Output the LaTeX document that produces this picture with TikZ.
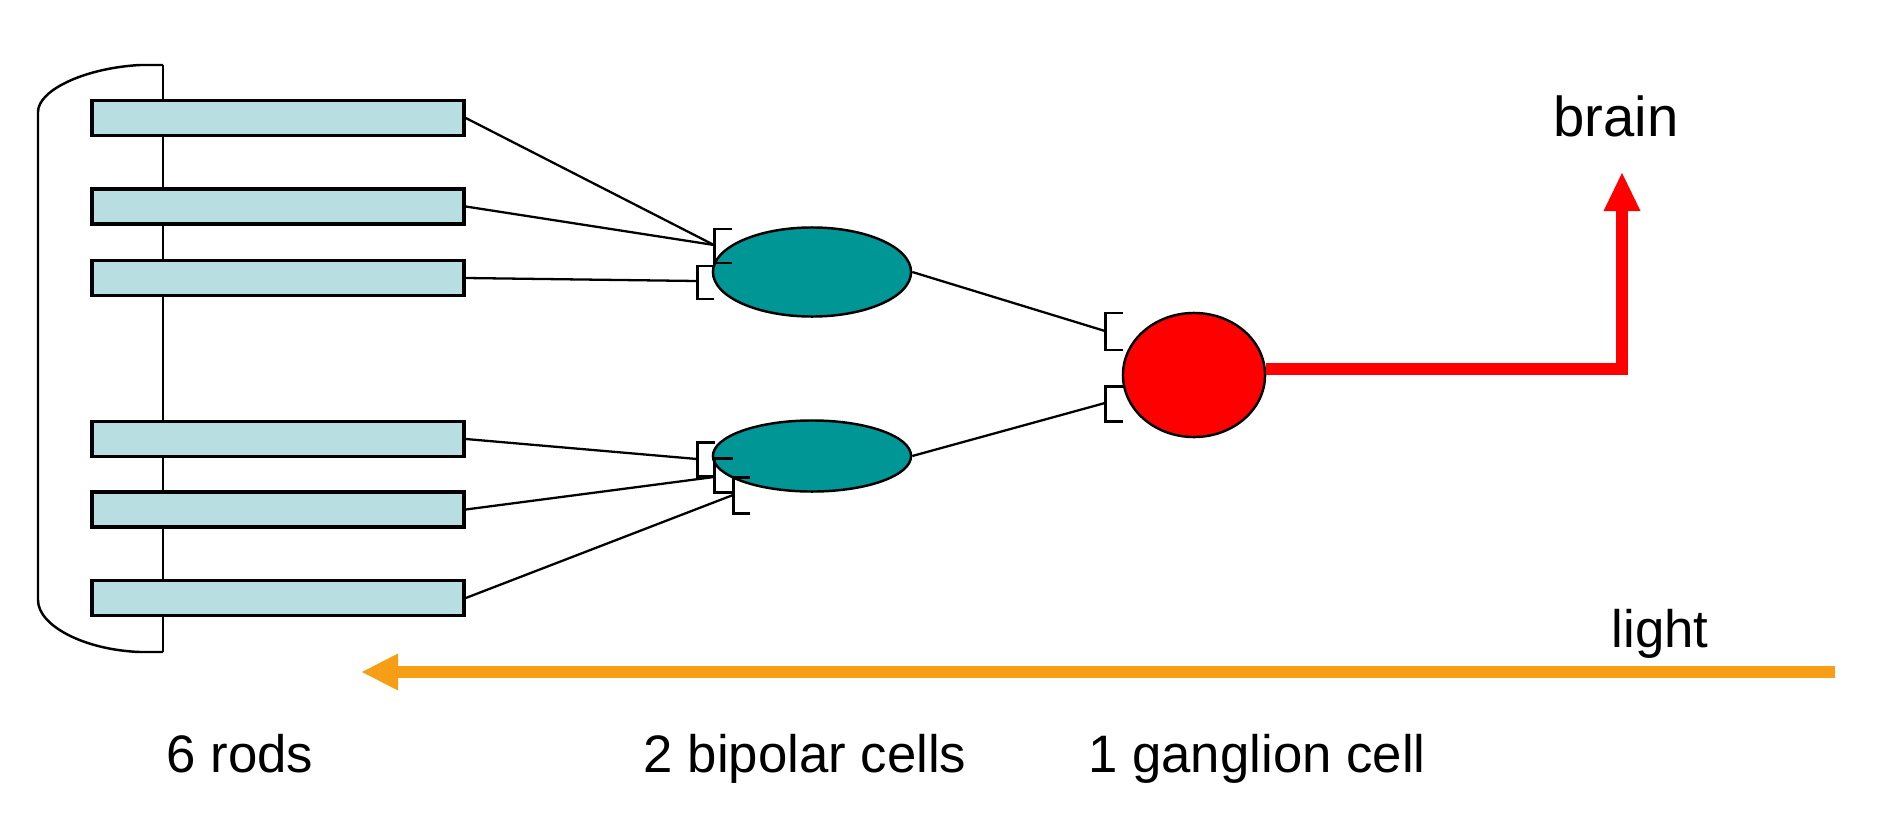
\documentclass[tikz,border=0pt]{standalone}
\usepackage{fontspec}
\setmainfont{Liberation Sans}
\usetikzlibrary{shapes.geometric,arrows.meta}

\definecolor{rodblue}{RGB}{184,222,226}
\definecolor{bipteal}{RGB}{0,150,150}
\definecolor{lightorange}{RGB}{246,158,22}

\begin{document}
\begin{tikzpicture}[x=0.01cm,y=-0.01cm,
	rod/.style={draw,line width=0.95pt,fill=rodblue,rectangle,minimum width=3.72cm,minimum height=0.35cm,inner sep=0pt},
	bipolar/.style={draw,line width=0.7pt,fill=bipteal,ellipse,minimum width=1.98cm,inner sep=0pt},
	wire/.style={line width=0.65pt},
	syn/.style={line width=0.85pt},
	lbl/.style={font=\fontsize{15}{18}\selectfont,anchor=base}]
				\useasboundingbox (0,0) rectangle (1891,824);
				
				% retina outline
				\draw[line width=0.7pt] (163,65) -- (140,65) .. controls (85,68) and (38,90) .. (38,112) -- (38,600) .. controls (38,626) and (85,650) .. (140,652) -- (163,652);
				\draw[line width=0.8pt] (163,65) -- (163,652);
				
				\node[rod] (rod1) at (278,118) {};
				\node[rod] (rod2) at (278,206.5) {};
				\node[rod] (rod3) at (278,278) {};
				\node[rod] (rod4) at (278,439) {};
				\node[rod] (rod5) at (278,509.5) {};
				\node[rod] (rod6) at (278,598) {};
				
				\node[bipolar,minimum height=0.89cm] (bip1) at (812,272) {};
				\node[bipolar,minimum height=0.71cm] (bip2) at (812,456) {};
				\node[ellipse,draw,fill=red,line width=0.7pt,minimum width=1.42cm,minimum height=1.24cm,inner sep=0pt] (gang) at (1194,375) {};
				
				\coordinate (s1) at (714,245);
				\coordinate (s2) at (697,281);
				\coordinate (s3) at (697,459);
				\coordinate (s4) at (714,477);
				\coordinate (s5) at (733,495);
				\coordinate (g1) at (1105,331);
				\coordinate (g2) at (1105,403);
				
				% synapses
				\draw[syn] (732,229) -- (714,229) -- (714,263) -- (732,263);
				\draw[syn] (713,266) -- (697,266) -- (697,299) -- (714,299);
				\draw[syn] (715,442) -- (697,442) -- (697,476) -- (713,476);
				\draw[syn] (733,458) -- (714,458) -- (714,492) -- (732,492);
				\draw[syn] (750,477) -- (733,477) -- (733,513) -- (750,513);
				\draw[syn] (1123,313) -- (1105,313) -- (1105,350) -- (1123,350);
				\draw[syn] (1123,386) -- (1105,386) -- (1105,421) -- (1123,421);
				
				\draw[wire] (rod1.east) -- (s1);
				\draw[wire] (rod2.east) -- (s1);
				\draw[wire] (rod3.east) -- (s2);
				\draw[wire] (rod4.east) -- (s3);
				\draw[wire] (rod5.east) -- (s4);
				\draw[wire] (rod6.east) -- (s5);
				\draw[wire] (bip1.east) -- (g1);
				\draw[wire] (bip2.east) -- (g2);
				
				\coordinate (bend) at (1622,369);
				\coordinate (braintip) at (1622,173);
				\draw[red,line width=0.12cm,line join=miter,-{Triangle[width=0.37cm,length=0.38cm,line width=0pt]}] (gang.east |- bend) -- (bend) -- (braintip);
				
				\coordinate (lightstart) at (1835,672);
				\coordinate (lightend) at (362,672);
				\draw[lightorange,line width=0.12cm,-{Triangle[width=0.37cm,length=0.36cm,line width=0pt]}] (lightstart) -- (lightend);
				
				\node[lbl,font=\fontsize{16}{19}\selectfont] (brain) at (1616,136) {brain};
				\node[lbl] (light) at (1660,647) {light};
				\node[lbl] (rods) at (240,772) {6 rods};
				\node[lbl] (bipolars) at (805,772) {2 bipolar cells};
				\node[lbl] (ganglion) at (1257,772) {1 ganglion cell};
			\end{tikzpicture}
\end{document}
